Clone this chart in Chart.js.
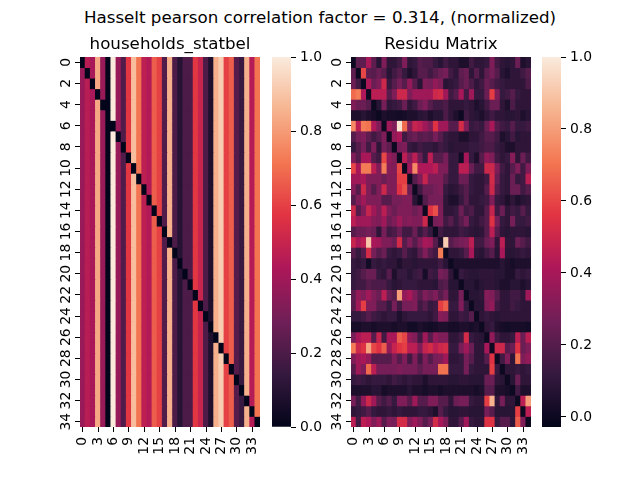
<!DOCTYPE html>
<html lang="en">
<head>
    <meta charset="UTF-8">
    <title>Hasselt pearson correlation</title>
    <script src="https://cdn.jsdelivr.net/npm/chart.js"></script>
    <style>
        body {
            margin: 0;
            background: #fff;
            font-family: "DejaVu Sans", sans-serif;
        }

        #wrap {
            position: relative;
            width: 640px;
            height: 480px;
        }

        #wrap canvas {
            position: absolute;
            left: 0;
            top: 0;
        }

        #suptitle {
            position: absolute;
            left: 0;
            top: 7px;
            width: 640px;
            text-align: center;
            font-size: 16.7px;
            line-height: 20px;
            color: #000;
        }
    </style>
</head>
<body>
<div id="wrap">
    <div id="suptitle">Hasselt pearson correlation factor = 0.314, (normalized)</div>
    <canvas id="heatStatbel" width="640" height="480"></canvas>
    <canvas id="barStatbel" width="640" height="480"></canvas>
    <canvas id="heatResidu" width="640" height="480"></canvas>
    <canvas id="barResidu" width="640" height="480"></canvas>
</div>

<script>
    // cell labels (35 municipalities / sectors, indexed 0..34)
    const cellLabels = ["0","1","2","3","4","5","6","7","8","9","10","11","12","13","14","15","16","17",
        "18","19","20","21","22","23","24","25","26","27","28","29","30","31","32","33","34"];
    const xTickIdx = [0, 3, 6, 9, 12, 15, 18, 21, 24, 27, 30, 33];
    const yTickIdx = [0, 2, 4, 6, 8, 10, 12, 14, 16, 18, 20, 22, 24, 26, 28, 30, 32, 34];
    const colorbarTicks = [0, 0.2, 0.4, 0.6, 0.8, 1.0];

    // households_statbel: every column holds one value, diagonal is 0
    const statbelColumns = [0.38, 0.46, 0.42, 0.83, 0.38, 0.0, 1.0, 0.38, 0.21, 0.58,
        0.88, 0.71, 0.47, 0.44, 0.66, 0.6, 0.21, 0.85, 0.2, 0.1,
        0.2, 0.2, 0.58, 0.5, 0.2, 0.08, 0.85, 0.92, 0.6, 0.66,
        0.22, 0.15, 0.85, 0.45, 0.71];
    const statbelMin = 0, statbelMax = 1;

    // Residu Matrix, one row per line
    const residuRows = [
        [0.0,0.22,0.22,0.4,0.22,0.08,0.3,0.1,0.1,0.15,0.3,0.1,0.12,0.2,0.18,0.18,0.12, 0.08,0.15,0.1,0.1,0.05,0.05,0.15,0.1,0.1,0.12,0.3,0.15,0.1,0.08,0.1,0.25,0.05,0.08],
        [0.22,0.0,0.6,0.22,0.2,0.25,0.2,0.08,0.15,0.2,0.12,0.05,0.1,0.2,0.2,0.15,0.2, 0.25,0.28,0.15,0.1,0.22,0.25,0.1,0.2,0.1,0.22,0.28,0.2,0.08,0.05,0.1,0.1,0.15,0.2],
        [0.25,0.15,0.0,0.42,0.25,0.3,0.5,0.12,0.2,0.28,0.2,0.35,0.2,0.08,0.3,0.28,0.35, 0.3,0.08,0.1,0.12,0.2,0.25,0.18,0.1,0.15,0.25,0.2,0.15,0.12,0.1,0.1,0.1,0.1,0.18],
        [0.68,0.72,0.42,0.0,0.45,0.45,0.45,0.2,0.3,0.5,0.5,0.3,0.38,0.38,0.38,0.38,0.5, 0.52,0.38,0.15,0.2,0.4,0.15,0.38,0.12,0.12,0.25,0.58,0.3,0.12,0.15,0.2,0.12,0.1,0.1],
        [0.3,0.25,0.25,0.2,0.0,0.08,0.28,0.1,0.12,0.15,0.25,0.1,0.15,0.25,0.3,0.2,0.15, 0.15,0.18,0.1,0.1,0.1,0.12,0.1,0.05,0.08,0.15,0.25,0.25,0.1,0.05,0.18,0.1,0.1,0.1],
        [0.05,0.05,0.08,0.05,0.03,0.0,0.05,0.03,0.03,0.02,0.03,0.05,0.05,0.08,0.1,0.05,0.08, 0.08,0.18,0.1,0.05,0.0,0.15,0.1,0.08,0.05,0.1,0.15,0.1,0.1,0.08,0.08,0.1,0.05,0.08],
        [0.75,0.45,0.72,0.7,0.42,0.3,0.0,0.38,0.3,0.98,0.68,0.3,0.48,0.45,0.38,0.3,0.55, 0.38,0.38,0.2,0.2,0.52,0.3,0.12,0.15,0.12,0.25,0.4,0.2,0.15,0.12,0.2,0.12,0.12,0.15],
        [0.2,0.28,0.3,0.22,0.15,0.2,0.3,0.0,0.35,0.4,0.15,0.22,0.25,0.2,0.22,0.2,0.28, 0.2,0.12,0.1,0.1,0.05,0.05,0.1,0.1,0.15,0.2,0.2,0.15,0.05,0.08,0.15,0.08,0.1,0.1],
        [0.12,0.2,0.28,0.15,0.3,0.1,0.28,0.22,0.0,0.28,0.3,0.12,0.1,0.15,0.12,0.12,0.1, 0.15,0.12,0.08,0.1,0.1,0.1,0.12,0.12,0.15,0.18,0.18,0.12,0.1,0.05,0.05,0.1,0.1,0.1],
        [0.3,0.2,0.4,0.4,0.2,0.15,0.6,0.35,0.3,0.0,0.45,0.3,0.45,0.25,0.12,0.45,0.2, 0.2,0.28,0.12,0.12,0.02,0.4,0.12,0.05,0.2,0.35,0.3,0.15,0.1,0.12,0.32,0.1,0.25,0.15],
        [0.6,0.4,0.72,0.72,0.45,0.3,0.72,0.32,0.3,0.6,0.0,0.38,0.75,0.42,0.42,0.42,0.45, 0.3,0.3,0.12,0.12,0.45,0.45,0.25,0.15,0.15,0.5,0.5,0.3,0.15,0.1,0.2,0.3,0.15,0.3],
        [0.38,0.38,0.4,0.3,0.3,0.3,0.25,0.3,0.3,0.58,0.58,0.0,0.2,0.3,0.48,0.3,0.3, 0.3,0.2,0.12,0.12,0.25,0.25,0.12,0.1,0.1,0.15,0.52,0.25,0.12,0.1,0.25,0.12,0.15,0.45],
        [0.32,0.2,0.5,0.3,0.2,0.3,0.5,0.3,0.3,0.55,0.62,0.25,0.0,0.15,0.25,0.25,0.28, 0.3,0.12,0.08,0.1,0.15,0.2,0.12,0.1,0.1,0.2,0.5,0.2,0.12,0.1,0.25,0.25,0.15,0.2],
        [0.2,0.3,0.38,0.3,0.3,0.3,0.2,0.2,0.28,0.28,0.3,0.3,0.08,0.0,0.2,0.28,0.28, 0.28,0.1,0.05,0.05,0.12,0.2,0.1,0.1,0.12,0.15,0.3,0.12,0.1,0.05,0.1,0.05,0.08,0.1],
        [0.5,0.2,0.3,0.48,0.38,0.3,0.45,0.3,0.25,0.3,0.3,0.3,0.25,0.3,0.0,0.55,0.62, 0.3,0.1,0.1,0.12,0.25,0.15,0.18,0.1,0.1,0.2,0.48,0.15,0.25,0.1,0.15,0.12,0.2,0.12],
        [0.45,0.38,0.38,0.38,0.32,0.3,0.38,0.25,0.3,0.38,0.3,0.32,0.3,0.3,0.5,0.0,0.28, 0.3,0.15,0.2,0.12,0.2,0.28,0.12,0.1,0.15,0.2,0.55,0.28,0.12,0.1,0.28,0.12,0.12,0.15],
        [0.2,0.25,0.25,0.28,0.25,0.1,0.28,0.15,0.18,0.25,0.15,0.15,0.25,0.12,0.2,0.12,0.0, 0.15,0.1,0.1,0.1,0.15,0.12,0.1,0.08,0.1,0.2,0.45,0.2,0.1,0.08,0.1,0.1,0.1,0.08],
        [0.48,0.4,0.45,0.9,0.4,0.38,0.3,0.3,0.25,0.52,0.2,0.3,0.2,0.3,0.4,0.38,0.2, 0.05,0.92,0.2,0.25,0.28,0.3,0.45,0.15,0.15,0.25,0.3,0.1,0.45,0.1,0.1,0.25,0.2,0.15],
        [0.2,0.12,0.2,0.52,0.28,0.2,0.25,0.12,0.1,0.12,0.2,0.12,0.1,0.2,0.3,0.2,0.15, 0.72,0.0,0.1,0.1,0.12,0.2,0.4,0.1,0.08,0.15,0.2,0.08,0.4,0.08,0.08,0.1,0.12,0.1],
        [0.12,0.1,0.12,0.02,0.12,0.1,0.12,0.1,0.1,0.05,0.1,0.1,0.08,0.1,0.1,0.1,0.1, 0.15,0.08,0.0,0.05,0.05,0.05,0.05,0.05,0.05,0.05,0.05,0.05,0.08,0.05,0.03,0.05,0.05,0.05],
        [0.12,0.15,0.2,0.25,0.25,0.12,0.1,0.2,0.05,0.12,0.12,0.08,0.12,0.15,0.03,0.15,0.12, 0.28,0.25,0.1,0.0,0.12,0.1,0.08,0.08,0.1,0.1,0.1,0.08,0.08,0.05,0.05,0.12,0.1,0.12],
        [0.12,0.15,0.15,0.2,0.18,0.18,0.18,0.12,0.08,0.1,0.12,0.12,0.12,0.1,0.1,0.1,0.08, 0.18,0.2,0.08,0.08,0.0,0.08,0.08,0.05,0.08,0.1,0.1,0.08,0.05,0.05,0.08,0.08,0.05,0.08],
        [0.22,0.35,0.3,0.38,0.3,0.25,0.45,0.25,0.2,0.8,0.35,0.4,0.3,0.2,0.3,0.25,0.3, 0.2,0.28,0.1,0.1,0.28,0.0,0.08,0.08,0.1,0.32,0.3,0.2,0.1,0.1,0.15,0.15,0.1,0.38],
        [0.2,0.38,0.58,0.3,0.3,0.2,0.2,0.12,0.28,0.15,0.28,0.28,0.3,0.15,0.2,0.12,0.15, 0.58,0.65,0.12,0.12,0.3,0.12,0.0,0.08,0.08,0.3,0.35,0.15,0.1,0.1,0.15,0.12,0.1,0.1],
        [0.12,0.12,0.15,0.2,0.15,0.12,0.1,0.12,0.12,0.05,0.1,0.12,0.12,0.12,0.12,0.1,0.15, 0.32,0.3,0.1,0.1,0.15,0.12,0.2,0.0,0.1,0.12,0.1,0.08,0.1,0.1,0.1,0.1,0.1,0.1],
        [0.03,0.03,0.05,0.05,0.03,0.05,0.05,0.05,0.03,0.05,0.05,0.02,0.02,0.05,0.03,0.02,0.03, 0.05,0.05,0.03,0.03,0.05,0.05,0.03,0.05,0.0,0.1,0.12,0.05,0.03,0.02,0.03,0.03,0.03,0.02],
        [0.28,0.4,0.45,0.45,0.2,0.48,0.15,0.4,0.4,0.65,0.6,0.35,0.3,0.15,0.38,0.2,0.35, 0.3,0.3,0.1,0.1,0.15,0.52,0.12,0.1,0.08,0.0,0.35,0.15,0.1,0.1,0.12,0.45,0.25,0.45],
        [0.72,0.5,0.55,0.82,0.6,0.55,0.65,0.35,0.48,0.55,0.58,0.45,0.45,0.3,0.48,0.52,0.45, 0.5,0.52,0.12,0.12,0.28,0.38,0.25,0.1,0.1,0.4,0.0,0.5,0.5,0.2,0.25,0.55,0.25,0.3],
        [0.3,0.38,0.4,0.35,0.2,0.2,0.2,0.2,0.3,0.2,0.3,0.15,0.3,0.15,0.3,0.2,0.28, 0.3,0.38,0.1,0.1,0.12,0.28,0.2,0.1,0.1,0.2,0.55,0.0,0.15,0.3,0.1,0.7,0.3,0.35],
        [0.2,0.38,0.3,0.68,0.45,0.28,0.28,0.28,0.28,0.3,0.28,0.28,0.28,0.22,0.28,0.28,0.28, 0.7,0.7,0.12,0.12,0.12,0.28,0.12,0.1,0.1,0.1,0.58,0.12,0.0,0.1,0.1,0.12,0.1,0.12],
        [0.12,0.15,0.12,0.1,0.12,0.12,0.12,0.1,0.15,0.12,0.1,0.12,0.1,0.1,0.05,0.1,0.1, 0.1,0.1,0.08,0.08,0.1,0.1,0.08,0.08,0.08,0.25,0.25,0.1,0.08,0.0,0.08,0.25,0.1,0.1],
        [0.05,0.05,0.05,0.05,0.08,0.08,0.03,0.05,0.05,0.05,0.05,0.08,0.05,0.05,0.03,0.05,0.05, 0.03,0.05,0.05,0.05,0.05,0.05,0.05,0.03,0.05,0.2,0.2,0.05,0.05,0.03,0.0,0.15,0.05,0.05],
        [0.28,0.15,0.35,0.5,0.38,0.2,0.15,0.2,0.12,0.3,0.3,0.2,0.38,0.2,0.2,0.3,0.3, 0.2,0.2,0.1,0.25,0.28,0.28,0.12,0.1,0.1,0.58,0.85,0.1,0.28,0.1,0.1,0.0,0.45,0.8],
        [0.1,0.12,0.15,0.2,0.12,0.1,0.1,0.12,0.1,0.12,0.1,0.1,0.1,0.12,0.12,0.1,0.05, 0.2,0.12,0.08,0.08,0.1,0.1,0.08,0.08,0.08,0.28,0.2,0.08,0.08,0.08,0.08,0.58,0.0,0.45],
        [0.45,0.15,0.45,0.42,0.3,0.38,0.2,0.3,0.28,0.52,0.52,0.3,0.38,0.3,0.2,0.28,0.52, 0.4,0.3,0.1,0.1,0.2,0.38,0.12,0.1,0.1,0.55,0.55,0.12,0.2,0.2,0.1,0.65,0.3,0.0]
    ];
    const residuMin = -0.028, residuMax = 1.0;

    // seaborn "rocket" colormap stops
    const rocketStops = [
        [0.0, "#03051a"], [0.143, "#35193e"], [0.286, "#701f57"], [0.429, "#ad1759"],
        [0.571, "#e13342"], [0.714, "#f37651"], [0.857, "#f6b48f"], [1.0, "#faebdd"]
    ];

    const FONT = "DejaVu Sans";

    function hexToRgb(h) {
        return [parseInt(h.slice(1, 3), 16), parseInt(h.slice(3, 5), 16), parseInt(h.slice(5, 7), 16)];
    }

    function rocket(t) {
        t = Math.max(0, Math.min(1, t));
        for (let i = 1; i < rocketStops.length; i++) {
            const [t1, c1] = rocketStops[i];
            const [t0, c0] = rocketStops[i - 1];
            if (t <= t1) {
                const f = (t - t0) / (t1 - t0);
                const a = hexToRgb(c0), b = hexToRgb(c1);
                const rgb = a.map((v, k) => Math.round(v + (b[k] - v) * f));
                return `rgb(${rgb[0]},${rgb[1]},${rgb[2]})`;
            }
        }
        return rocketStops[rocketStops.length - 1][1];
    }

    // tick labels rotated 90 degrees, like the matplotlib figure
    const rotatedTickLabels = {
        id: "rotatedTickLabels",
        afterDraw(chart) {
            const ctx = chart.ctx;
            const area = chart.chartArea;
            const xs = chart.scales.x, ys = chart.scales.y;
            ctx.save();
            ctx.fillStyle = "#000";
            ctx.font = `13.9px "${FONT}"`;
            xTickIdx.forEach(i => {
                ctx.save();
                ctx.translate(xs.getPixelForValue(i), area.bottom + 10);
                ctx.rotate(-Math.PI / 2);
                ctx.textAlign = "right";
                ctx.textBaseline = "middle";
                ctx.fillText(cellLabels[i], 0, 0);
                ctx.restore();
            });
            yTickIdx.forEach(i => {
                ctx.save();
                ctx.translate(area.left - 10, ys.getPixelForValue(i + 0.5));
                ctx.rotate(-Math.PI / 2);
                ctx.textAlign = "center";
                ctx.textBaseline = "alphabetic";
                ctx.fillText(cellLabels[i], 0, 0);
                ctx.restore();
            });
            ctx.restore();
        }
    };

    const tickGrid = { drawOnChartArea: false, drawTicks: true, tickLength: 5, color: "#000", lineWidth: 1 };

    function heatmap(id, title, matrix, vmin, vmax, padLeft, padRight) {
        const datasets = matrix.map((row, r) => ({
            data: row.map(() => [r, r + 1]),
            backgroundColor: row.map(v => rocket((v - vmin) / (vmax - vmin))),
            borderWidth: 0,
            inflateAmount: 0.4,
            barPercentage: 1,
            categoryPercentage: 1,
            grouped: false
        }));

        new Chart(document.getElementById(id), {
            type: "bar",
            data: { labels: cellLabels, datasets: datasets },
            options: {
                responsive: false,
                animation: false,
                events: [],
                layout: { padding: { left: padLeft, right: padRight, top: 30, bottom: 13 } },
                plugins: {
                    legend: { display: false },
                    tooltip: { enabled: false },
                    title: {
                        display: true,
                        text: title,
                        fullSize: false,
                        color: "#000",
                        font: { family: FONT, size: 16.7, weight: "normal", lineHeight: 1 },
                        padding: { top: 6, bottom: 4.3 }
                    }
                },
                scales: {
                    x: {
                        type: "category",
                        offset: true,
                        grid: Object.assign({ offset: false }, tickGrid),
                        border: { display: false },
                        ticks: { display: false },
                        afterBuildTicks: s => { s.ticks = xTickIdx.map(v => ({ value: v })); },
                        afterFit: s => { s.height = 40; s.paddingLeft = 0; s.paddingRight = 0; }
                    },
                    y: {
                        type: "linear",
                        reverse: true,
                        min: 0,
                        max: cellLabels.length,
                        grid: tickGrid,
                        border: { display: false },
                        ticks: { display: false },
                        afterBuildTicks: s => { s.ticks = yTickIdx.map(v => ({ value: v + 0.5 })); },
                        afterFit: s => { s.width = 30; s.paddingTop = 0; s.paddingBottom = 0; }
                    }
                }
            },
            plugins: [rotatedTickLabels]
        });
    }

    function colorbar(id, vmin, vmax, padLeft, padRight) {
        new Chart(document.getElementById(id), {
            type: "bar",
            data: {
                labels: [""],
                datasets: [{
                    data: [[vmin, vmax]],
                    backgroundColor: c => {
                        const area = c.chart.chartArea;
                        if (!area) return null;
                        const g = c.chart.ctx.createLinearGradient(0, area.bottom, 0, area.top);
                        rocketStops.forEach(([t, col]) => g.addColorStop(t, col));
                        return g;
                    },
                    borderWidth: 0,
                    barPercentage: 1,
                    categoryPercentage: 1
                }]
            },
            options: {
                responsive: false,
                animation: false,
                events: [],
                layout: { padding: { left: padLeft, right: padRight, top: 57, bottom: 53 } },
                plugins: { legend: { display: false }, tooltip: { enabled: false } },
                scales: {
                    x: { display: false },
                    y: {
                        position: "right",
                        min: vmin,
                        max: vmax,
                        grid: tickGrid,
                        border: { display: false },
                        ticks: {
                            color: "#000",
                            padding: 4,
                            font: { family: FONT, size: 13.9 },
                            callback: v => v.toFixed(1)
                        },
                        afterBuildTicks: s => { s.ticks = colorbarTicks.map(v => ({ value: v })); },
                        afterFit: s => { s.width = 40; s.paddingTop = 0; s.paddingBottom = 0; }
                    }
                }
            }
        });
    }

    heatmap("heatStatbel", "households_statbel",
        cellLabels.map((_, r) => statbelColumns.map((v, c) => (r === c ? 0 : v))),
        statbelMin, statbelMax, 50, 380);
    colorbar("barStatbel", statbelMin, statbelMax, 272, 309);

    heatmap("heatResidu", "Residu Matrix", residuRows, residuMin, residuMax, 321, 109);
    colorbar("barResidu", residuMin, residuMax, 542, 39);
</script>
</body>
</html>
